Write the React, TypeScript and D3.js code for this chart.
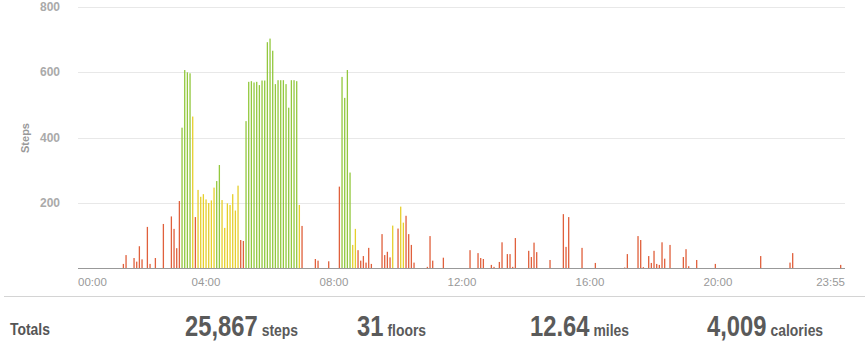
import React from "react";
import * as d3 from "d3";

// Steps per 5-minute interval; one row per hour (00:00 .. 23:55)
const stepsByHour: number[][] = [
  [0, 0, 0, 0, 0, 0, 0, 0, 0, 0, 0, 0],
  [0, 0, 0, 0, 0, 14, 41, 0, 0, 32, 21, 68],
  [28, 0, 127, 14, 0, 32, 0, 0, 136, 0, 0, 159],
  [121, 62, 206, 430, 606, 599, 596, 464, 157, 240, 219, 227],
  [211, 200, 208, 247, 267, 316, 209, 124, 199, 194, 227, 177],
  [253, 87, 84, 450, 570, 572, 568, 570, 560, 574, 574, 691],
  [702, 665, 563, 575, 575, 575, 563, 491, 575, 575, 572, 194],
  [130, 0, 0, 0, 0, 29, 24, 0, 0, 0, 22, 0],
  [0, 0, 250, 585, 521, 606, 293, 72, 121, 56, 24, 38],
  [18, 63, 14, 0, 0, 0, 105, 41, 51, 34, 131, 0],
  [122, 189, 140, 161, 105, 72, 18, 0, 0, 0, 0, 5],
  [99, 24, 0, 0, 0, 33, 0, 0, 0, 0, 0, 0],
  [0, 0, 0, 56, 0, 0, 47, 32, 29, 0, 0, 11],
  [5, 0, 20, 80, 0, 44, 44, 5, 93, 0, 0, 0],
  [0, 54, 35, 79, 50, 0, 0, 0, 0, 26, 0, 0],
  [0, 0, 166, 66, 157, 0, 0, 0, 0, 63, 0, 0],
  [0, 0, 17, 0, 0, 0, 0, 0, 0, 0, 0, 0],
  [0, 3, 44, 0, 0, 0, 99, 87, 4, 0, 38, 17],
  [54, 14, 11, 80, 30, 0, 72, 0, 0, 0, 0, 35],
  [59, 7, 0, 0, 26, 0, 0, 0, 0, 0, 0, 14],
  [0, 0, 0, 0, 0, 0, 0, 0, 0, 0, 0, 0],
  [0, 0, 0, 0, 38, 0, 0, 0, 0, 0, 0, 0],
  [0, 0, 0, 18, 47, 0, 0, 0, 0, 0, 0, 0],
  [0, 0, 0, 0, 0, 0, 0, 0, 0, 0, 11, 0],
];

// 5-minute slot indices by activity level (others are lightly active)
const fairlyActiveSlots = [43, 45, 46, 47, 48, 49, 50, 51, 54, 55, 56, 57, 58, 59, 60, 83, 103, 104, 118, 121, 122];
const veryActiveSlots = [
  39, 40, 41, 42, 52, 53, 63, 64, 65, 66, 67, 68, 69, 70, 71, 72, 73, 74, 75, 76, 77, 78, 79, 80, 81, 82,
  99, 100, 101, 102,
];

const yTicks = [200, 400, 600, 800];
const xTickSlots = [0, 48, 96, 144, 192, 240, 287];
const xTickLabels = ["00:00", "04:00", "08:00", "12:00", "16:00", "20:00", "23:55"];

const totalLabels = ["steps", "floors", "miles", "calories"];
const totalValues = ["25,867", "31", "12.64", "4,009"];

const W = 865;
const H = 342;
const plotLeft = 78;
const plotRight = 845;

const colorLight = "#e0603c";
const colorFair = "#e6cf2c";
const colorVery = "#93c83e";

const narrow = 0.82;

export default function App() {
  const steps = stepsByHour.flat();
  const x = d3.scaleLinear().domain([0, 287]).range([78, 843.3]);
  const y = d3.scaleLinear().domain([0, 800]).range([268.5, 6.5]);
  const levelColor = (i: number) =>
    veryActiveSlots.includes(i) ? colorVery : fairlyActiveSlots.includes(i) ? colorFair : colorLight;

  const totalX = [185, 357, 530, 707];
  const font = "'Liberation Sans', Arial, sans-serif";

  return (
    <div style={{ position: "fixed", left: 0, top: 0, width: W, height: H, background: "#fff" }}>
      <svg width={W} height={H} style={{ display: "block" }}>
        {yTicks.map((t) => (
          <line key={"g" + t} x1={plotLeft} x2={plotRight} y1={Math.round(y(t)) + 0.5} y2={Math.round(y(t)) + 0.5} stroke="#e8e8e8" />
        ))}
        {yTicks.map((t) => (
          <text key={"yl" + t} x={60} y={y(t)} dy="0.35em" textAnchor="end" fontFamily={font} fontWeight="bold" fontSize={12} fill="#aaa">
            {t}
          </text>
        ))}
        <text transform={`translate(29,${138}) rotate(-90)`} textAnchor="middle" fontFamily={font} fontWeight="bold" fontSize={11} fill="#999">
          Steps
        </text>
        {steps.map((v, i) =>
          v > 0 ? <rect key={"b" + i} x={x(i) - 0.6} y={y(v)} width={1.3} height={y(0) - y(v)} fill={levelColor(i)} /> : null
        )}
        <line x1={plotLeft} x2={plotRight} y1={268.5} y2={268.5} stroke="#999" />
        {xTickSlots.map((s, k) => (
          <text
            key={"xl" + s}
            x={k === 0 ? plotLeft : k === xTickSlots.length - 1 ? plotRight : x(s)}
            y={282}
            dy="0.35em"
            textAnchor={k === 0 ? "start" : k === xTickSlots.length - 1 ? "end" : "middle"}
            fontFamily={font}
            fontSize={11.5}
            fill="#999"
          >
            {xTickLabels[k]}
          </text>
        ))}
        <line x1={4} x2={W} y1={296.5} y2={296.5} stroke="#d4d4d4" />
        <text transform={`translate(10,335) scale(${narrow},1)`} fontFamily={font} fontWeight="bold" fontSize={17} fill="#555">
          Totals
        </text>
        {totalValues.map((v, k) => (
          <text key={"t" + k} transform={`translate(${totalX[k]},336) scale(${narrow},1)`} fontFamily={font} fontWeight="bold" fill="#5a5a5a">
            <tspan fontSize={29}>{v}</tspan>
            <tspan fontSize={17} dx={4 / narrow}>
              {totalLabels[k]}
            </tspan>
          </text>
        ))}
      </svg>
    </div>
  );
}
